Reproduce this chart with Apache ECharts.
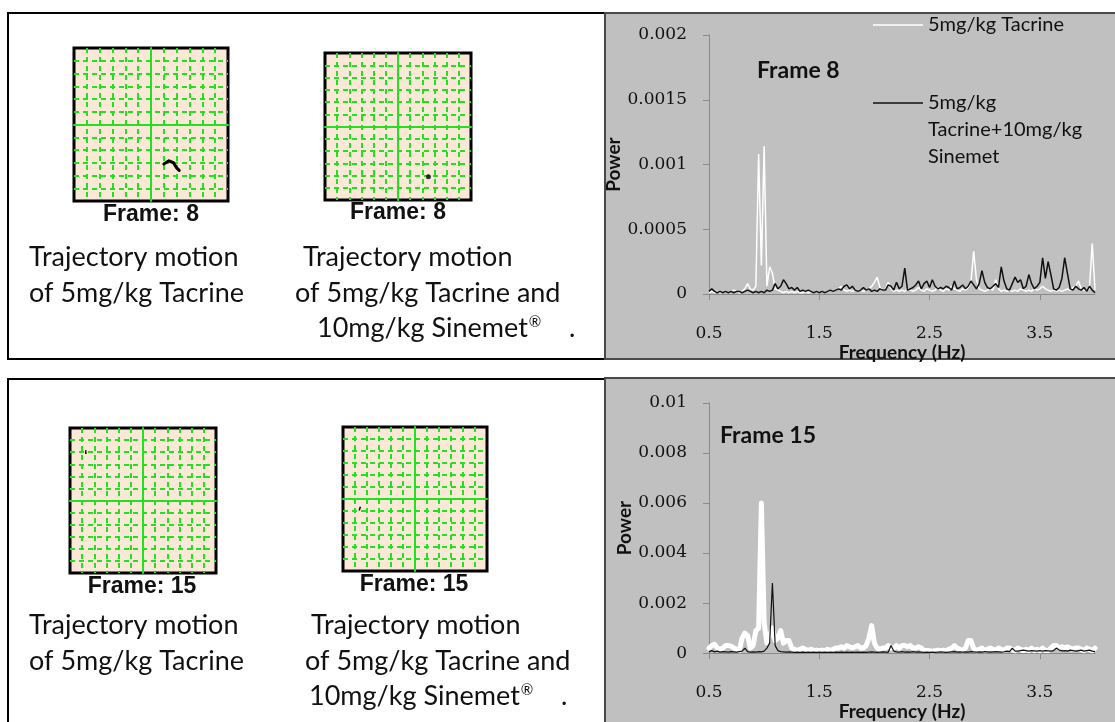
<!DOCTYPE html>
<html>
<head>
<meta charset="utf-8">
<script src="https://cdn.jsdelivr.net/npm/echarts@6/dist/echarts.min.js"></script>
<style>
  html, body { margin: 0; padding: 0; background: #ffffff; }
  #chart { width: 1115px; height: 722px; }
</style>
</head>
<body>
<div id="chart"></div>
<script>
// Power spectra, 0.5–4.0 Hz in 0.025 Hz bins
const FREQ_START = 0.5;
const FREQ_STEP = 0.025;

// Frame 8 – 5 mg/kg Tacrine (white trace)
const W8 = [
  0.00001, 0.00002, 0.00001, 0.00002, 0.00001, 0.00001, 0.00002, 0.00001, 0.00002, 0.00003,
  0.00002, 0.00001, 0.00002, 0.00004, 0.00008, 0.00004, 0.00003, 0.00006, 0.00108, 0.00022,
  0.00114, 0.00006, 0.00021, 0.00016, 0.00004, 0.00003, 0.00002, 0.00001, 0.00002, 0.00001,
  0.00002, 0.00001, 0.00002, 0.00001, 0.00001, 0.00002, 0.00001, 0.00002, 0.00001, 0.00002,
  0.00001, 0.00002, 0.00001, 0.00002, 0.00003, 0.00002, 0.00003, 0.00004, 0.00006, 0.00003,
  0.00002, 0.00003, 0.00002, 0.00003, 0.00002, 0.00003, 0.00002, 0.00003, 0.00004, 0.00006,
  0.00009, 0.00013, 0.00005, 0.00003, 0.00004, 0.00009, 0.00004, 0.00002, 0.00003, 0.00002,
  0.00003, 0.00002, 0.00004, 0.00003, 0.00002, 0.00003, 0.00005, 0.00003, 0.00002, 0.00004,
  0.00003, 0.00002, 0.00003, 0.00005, 0.00003, 0.00002, 0.00004, 0.00003, 0.00006, 0.00004,
  0.00003, 0.00002, 0.00004, 0.00003, 0.00005, 0.00009, 0.00033, 0.00011, 0.00004, 0.00003,
  0.00002, 0.00003, 0.00004, 0.00003, 0.00011, 0.00004, 0.00002, 0.00003, 0.00002, 0.00003,
  0.00002, 0.00003, 0.00002, 0.00004, 0.00003, 0.00002, 0.00003, 0.00002, 0.00004, 0.00003,
  0.00004, 0.00006, 0.00004, 0.00003, 0.00002, 0.00003, 0.00002, 0.00003, 0.00002, 0.00003,
  0.00004, 0.00003, 0.00005, 0.00006, 0.0001, 0.00004, 0.00003, 0.00002, 0.00005, 0.00039,
  0.00003
];

// Frame 8 – 5 mg/kg Tacrine + 10 mg/kg Sinemet (black trace)
const B8 = [
  0.00002, 0.00004, 0.00002, 0.00001, 0.00002, 0.00001, 0.00002, 0.00001, 0.00002, 0.00001,
  0.00002, 0.00002, 0.00001, 0.00002, 0.00003, 0.00002, 0.00001, 0.00002, 0.00001, 0.00002,
  0.00001, 0.00003, 0.00002, 0.00003, 0.00008, 0.00004, 0.00006, 0.00011, 0.00008, 0.00004,
  0.00005, 0.00003, 0.00005, 0.00002, 0.00003, 0.00002, 0.00003, 0.00002, 0.00001, 0.00002,
  0.00001, 0.00002, 0.00001, 0.00002, 0.00003, 0.00002, 0.00003, 0.00004, 0.00003, 0.00006,
  0.00007, 0.00004, 0.00006, 0.00003, 0.00002, 0.00003, 0.00005, 0.00003, 0.00004, 0.00002,
  0.00003, 0.00002, 0.00004, 0.00003, 0.00003, 0.00007, 0.00006, 0.00003, 0.00009, 0.00004,
  0.00006, 0.0002, 0.00003, 0.00004, 0.00005, 0.00007, 0.0001, 0.00004, 0.00008, 0.0001,
  0.00005, 0.00011, 0.00006, 0.00004, 0.00005, 0.00004, 0.00006, 0.00005, 0.00003, 0.0001,
  0.00004, 0.00005, 0.00007, 0.00004, 0.00006, 0.0001, 0.00007, 0.00004, 0.00008, 0.00018,
  0.00009, 0.00005, 0.00004, 0.00006, 0.00008, 0.00005, 0.00021, 0.0001, 0.00004, 0.00003,
  0.00008, 0.00013, 0.00009, 0.00011, 0.00004, 0.00006, 0.00015, 0.00008, 0.00004, 0.00006,
  0.00009, 0.00028, 0.00012, 0.00025, 0.00015, 0.00004, 0.00003, 0.00005, 0.00012, 0.00028,
  0.00016, 0.00004, 0.00003, 0.00006, 0.00004, 0.00003, 0.00005, 0.00002, 0.00006, 0.00003,
  0.00001
];

// Frame 15 – 5 mg/kg Tacrine (white trace)
const W15 = [
  0.0002, 0.0003, 0.00035, 0.0002, 0.00015, 0.0002, 0.0003, 0.0003, 0.00028, 0.0002,
  0.00015, 0.0001, 0.0006, 0.0008, 0.0007, 0.0002, 0.0003, 0.0009, 0.001, 0.006,
  0.0012, 0.0004, 0.0007, 0.001, 0.0005, 0.0006, 0.0009, 0.0004, 0.0005, 0.0005,
  0.0002, 0.00015, 0.0001, 0.00015, 0.0002, 0.00015, 0.0001, 0.00015, 0.0001, 0.00012,
  0.0001, 0.00012, 0.0001, 0.00015, 0.0001, 0.00015, 0.0002, 0.0002, 0.00025, 0.0002,
  0.0003, 0.00025, 0.0002, 0.00025, 0.0003, 0.0002, 0.0002, 0.0003, 0.0006, 0.0011,
  0.0004, 0.0002, 0.00015, 0.0002, 0.0002, 0.0003, 0.0002, 0.0002, 0.0003, 0.0002,
  0.0003, 0.0003, 0.00025, 0.0003, 0.0002, 0.0002, 0.00025, 0.0002, 0.0001, 0.0001,
  0.0001, 0.00008, 0.0001, 0.00012, 0.0001, 0.00012, 0.0001, 0.00015, 0.0002, 0.0003,
  0.0002, 0.00015, 0.0001, 0.0002, 0.0005, 0.0005, 0.0002, 0.0001, 0.00015, 0.0002,
  0.0001, 0.00015, 0.0002, 0.00015, 0.00012, 0.0002, 0.00015, 0.0001, 0.0002, 0.0002,
  0.00015, 0.0001, 0.0002, 0.00015, 0.0001, 0.00015, 0.0001, 0.0002, 0.0001, 0.00015,
  0.0001, 0.0002, 0.0001, 0.0001, 0.0002, 0.0003, 0.0003, 0.0002, 0.00025, 0.0002,
  0.00025, 0.0002, 0.00015, 0.0002, 0.0002, 0.00015, 0.0001, 0.0002, 0.00015, 0.0001,
  0.0002
];

// Frame 15 – 5 mg/kg Tacrine + 10 mg/kg Sinemet (black trace)
const B15 = [
  0.00005, 0.0001, 0.00005, 0.00008, 0.00004, 0.00006, 0.00005, 0.00004, 0.00006, 0.00005,
  0.00004, 0.00006, 0.00008, 0.0002, 0.00006, 0.00004, 0.00005, 0.00004, 0.00006, 0.00005,
  0.00008, 0.0002, 0.0004, 0.0028, 0.0003, 0.0001, 0.00006, 0.00005, 0.00004, 0.00005,
  0.00004, 0.00003, 0.00004, 0.00003, 0.00004, 0.00003, 0.00004, 0.00003, 0.00004, 0.00003,
  0.00004, 0.00003, 0.00004, 0.00003, 0.00004, 0.00003, 0.00004, 0.00003, 0.00004, 0.00003,
  0.00004, 0.00003, 0.00004, 0.00003, 0.00004, 0.00003, 0.00004, 0.00003, 0.00004, 0.00005,
  0.00004, 0.00003, 0.00004, 0.00005, 0.00004, 0.00003, 0.0003, 0.00008, 0.00005, 0.00004,
  0.00006, 0.00004, 0.00005, 0.00004, 0.00006, 0.00004, 0.00005, 0.00004, 0.00003, 0.00004,
  0.00003, 0.00004, 0.00003, 0.00004, 0.00005, 0.00004, 0.00003, 0.00004, 0.00005, 0.00006,
  0.00004, 0.00005, 0.00004, 0.00005, 0.00004, 0.00006, 0.00005, 0.00004, 0.00005, 0.00004,
  0.00006, 0.00005, 0.00004, 0.00005, 0.00006, 0.00005, 0.00004, 0.00005, 0.00008, 0.00006,
  0.0002, 0.00008, 0.00008, 0.0001, 0.00012, 0.0001, 0.00008, 0.0001, 0.00009, 0.00008,
  0.0001, 0.00008, 0.0001, 0.00009, 0.00008, 0.0001, 0.0002, 0.00012, 0.00009, 0.0001,
  0.00008, 0.00012, 0.0001, 0.00008, 0.0001, 0.00012, 0.00008, 0.0001, 0.00012, 0.00008,
  0.00006
];

// Frequency tick labels shown on the spectrum axes
const FREQ_TICKS = [0.5, 1.5, 2.5, 3.5];

// Trajectory traces in arena grid units (-6..6)
const TRAJ_F8_TACRINE = [[1.0, -3.1], [1.4, -2.85], [1.75, -3.0], [2.0, -3.4], [2.2, -3.6]];
const TRAJ_F8_COMBO = [[2.5, -4.1]];
const TRAJ_F15_TACRINE = [[-4.7, 4.15], [-4.7, 3.85]];
const TRAJ_F15_COMBO = [[-4.55, -0.65], [-4.65, -0.95]];

const SERIES_TACRINE = '5mg/kg Tacrine';
const SERIES_COMBO = '5mg/kg Tacrine+10mg/kg Sinemet';

const FREQ = W8.map((_, i) => +(FREQ_START + i * FREQ_STEP).toFixed(3));
const pairs = arr => FREQ.map((f, i) => [f, arr[i]]);

const GREEN = '#1fe31f';
const BEIGE = '#fbe8d6';
const AXIS_GRAY = '#8a8a8a';
const CAPTION_FONT = 'Lato';
const TICK_FONT = 'DejaVu Serif';

// arena squares (trajectory grids)
const arenaGrids = [
  { left: 74, top: 48, width: 154, height: 153 },
  { left: 325, top: 53, width: 146, height: 147 },
  { left: 70, top: 428, width: 146, height: 145 },
  { left: 343, top: 427, width: 144, height: 144 }
].map(g => Object.assign({
  show: true, backgroundColor: BEIGE, borderColor: '#000', borderWidth: 3, containLabel: false
}, g));

function arenaAxis(i) {
  return {
    gridIndex: i, type: 'value', min: -6, max: 6, interval: 1,
    axisLabel: { show: false }, axisTick: { show: false },
    axisLine: { show: true, onZero: true, lineStyle: { color: GREEN, width: 2 } },
    splitLine: { show: true, showMinLine: false, showMaxLine: false,
      lineStyle: { color: GREEN, width: 2, type: [5, 4] } }
  };
}

function specX(i) {
  return {
    gridIndex: i, type: 'value', min: 0.5, max: 4,
    axisLine: { show: true, onZero: false, lineStyle: { color: AXIS_GRAY, width: 1 } },
    axisTick: { show: true, customValues: FREQ_TICKS, length: 6, lineStyle: { color: AXIS_GRAY } },
    axisLabel: { customValues: FREQ_TICKS, margin: 31, color: '#111', fontFamily: TICK_FONT, fontSize: 17 },
    splitLine: { show: false },
    name: 'Frequency (Hz)', nameLocation: 'middle', nameGap: 31,
    nameTextStyle: { color: '#111', fontFamily: CAPTION_FONT, fontWeight: 'bold', fontSize: 19 }
  };
}

function specY(i, max, interval) {
  return {
    gridIndex: i, type: 'value', min: 0, max: max, interval: interval,
    axisLine: { show: true, lineStyle: { color: AXIS_GRAY, width: 1 } },
    axisTick: { show: true, length: 6, lineStyle: { color: AXIS_GRAY } },
    axisLabel: { margin: 22, color: '#111', fontFamily: TICK_FONT, fontSize: 17 },
    splitLine: { show: false },
    name: 'Power', nameLocation: 'middle', nameGap: 70, nameRotate: 90,
    nameTextStyle: { color: '#111', fontFamily: CAPTION_FONT, fontWeight: 'bold', fontSize: 19 }
  };
}

function caption(text, x, y) {
  return { type: 'text', z: 100, style: {
    text: text, x: x, y: y, fill: '#111', verticalAlign: 'middle',
    font: '27px ' + CAPTION_FONT } };
}
function sinemetCaption(x, y) {
  return { type: 'text', z: 100, style: {
    text: '{a|10mg/kg Sinemet}{r|®}{a|    .}', x: x, y: y, verticalAlign: 'middle', fill: '#111',
    rich: {
      a: { fontFamily: CAPTION_FONT, fontSize: 27, fill: '#111' },
      r: { fontFamily: CAPTION_FONT, fontSize: 15, fill: '#111', padding: [0, 0, 12, 1] }
    } } };
}
function frameLabel(text, x, y) {
  return { type: 'text', z: 100, style: {
    text: text, x: x, y: y, align: 'center', verticalAlign: 'middle', fill: '#111',
    font: 'bold 23px "Liberation Sans"' } };
}
function panel(x, y, w, h, fill, stroke) {
  return { type: 'rect', z: -10, shape: { x: x, y: y, width: w, height: h },
    style: { fill: fill, stroke: stroke, lineWidth: 2 } };
}

const legendText = { fontFamily: CAPTION_FONT, fontSize: 20, color: '#111', lineHeight: 27 };

const option = {
  animation: false,
  backgroundColor: '#ffffff',
  title: [
    { text: 'Frame 8', left: 757, top: 59, padding: 0,
      textStyle: { fontFamily: CAPTION_FONT, fontWeight: 'bold', fontSize: 23, color: '#111' } },
    { text: 'Frame 15', left: 720, top: 424, padding: 0,
      textStyle: { fontFamily: CAPTION_FONT, fontWeight: 'bold', fontSize: 23, color: '#111' } }
  ],
  legend: [
    { data: [SERIES_TACRINE], left: 873, top: 11.5, padding: 0, orient: 'vertical',
      icon: 'rect', itemWidth: 50, itemHeight: 1.5, selectedMode: false,
      itemStyle: { borderWidth: 0 }, textStyle: legendText },
    // two blank lines keep the line key level with the first line of the label
    { data: [SERIES_COMBO], left: 873, top: 35.5, padding: 0, orient: 'vertical',
      icon: 'rect', itemWidth: 50, itemHeight: 1.5, selectedMode: false,
      itemStyle: { borderWidth: 0 },
      formatter: () => '\n\n5mg/kg\nTacrine+10mg/kg\nSinemet',
      textStyle: legendText }
  ],
  grid: arenaGrids.concat([
    { left: 709, top: 35, width: 386, height: 259, containLabel: false },
    { left: 709, top: 403, width: 386, height: 260, containLabel: false }
  ]),
  xAxis: [arenaAxis(0), arenaAxis(1), arenaAxis(2), arenaAxis(3), specX(4), specX(5)],
  yAxis: [arenaAxis(0), arenaAxis(1), arenaAxis(2), arenaAxis(3),
    specY(4, 0.002, 0.0005), specY(5, 0.01, 0.002)],
  series: [
    { name: SERIES_TACRINE, type: 'line', xAxisIndex: 4, yAxisIndex: 4, data: pairs(W8),
      symbol: 'none', z: 3, lineStyle: { color: '#ffffff', width: 1.5 }, itemStyle: { color: '#ffffff' } },
    { name: SERIES_COMBO, type: 'line', xAxisIndex: 4, yAxisIndex: 4, data: pairs(B8),
      symbol: 'none', z: 4, lineStyle: { color: '#111111', width: 1.5 }, itemStyle: { color: '#111111' } },
    { name: SERIES_TACRINE, type: 'line', xAxisIndex: 5, yAxisIndex: 5, data: pairs(W15),
      symbol: 'none', z: 3, lineStyle: { color: '#ffffff', width: 5, cap: 'round', join: 'round' },
      itemStyle: { color: '#ffffff' } },
    { name: SERIES_COMBO, type: 'line', xAxisIndex: 5, yAxisIndex: 5, data: pairs(B15),
      symbol: 'none', z: 4, lineStyle: { color: '#111111', width: 1.2 }, itemStyle: { color: '#111111' } },
    { type: 'line', xAxisIndex: 0, yAxisIndex: 0, data: TRAJ_F8_TACRINE, symbol: 'none', z: 5,
      lineStyle: { color: '#000', width: 3, cap: 'round', join: 'round' } },
    { type: 'scatter', xAxisIndex: 1, yAxisIndex: 1, data: TRAJ_F8_COMBO, symbolSize: 5, z: 5,
      itemStyle: { color: '#000' } },
    { type: 'line', xAxisIndex: 2, yAxisIndex: 2, data: TRAJ_F15_TACRINE, symbol: 'none', z: 5,
      lineStyle: { color: '#000', width: 1.5 } },
    { type: 'line', xAxisIndex: 3, yAxisIndex: 3, data: TRAJ_F15_COMBO, symbol: 'none', z: 5,
      lineStyle: { color: '#000', width: 1.5 } }
  ],
  graphic: [
    panel(8, 13, 597, 346, '#ffffff', '#000000'),
    panel(8, 379, 597, 345, '#ffffff', '#000000'),
    panel(605, 13, 512, 346, '#c0c0c0', '#4a4a4a'),
    panel(605, 378, 512, 346, '#c0c0c0', '#4a4a4a'),
    frameLabel('Frame: 8', 151, 215),
    frameLabel('Frame: 8', 398, 213),
    frameLabel('Frame: 15', 142, 587),
    frameLabel('Frame: 15', 414, 585),
    caption('Trajectory motion', 29, 257),
    caption('of 5mg/kg Tacrine', 29, 293),
    caption('Trajectory motion', 303, 257),
    caption('of 5mg/kg Tacrine and', 295, 293),
    sinemetCaption(317, 328),
    caption('Trajectory motion', 29, 625),
    caption('of 5mg/kg Tacrine', 29, 661),
    caption('Trajectory motion', 311, 625),
    caption('of 5mg/kg Tacrine and', 305, 661),
    sinemetCaption(309, 696)
  ]
};

const chart = echarts.init(document.getElementById('chart'), null, { renderer: 'canvas' });
chart.setOption(option);
</script>
</body>
</html>
